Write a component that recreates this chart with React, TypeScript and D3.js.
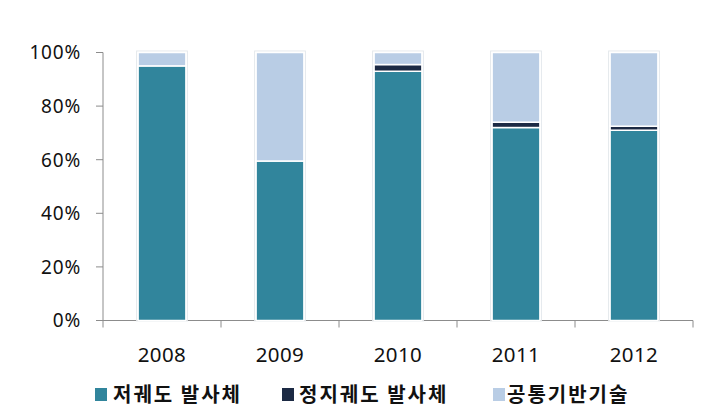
import React from "react";
import * as d3 from "d3";

const years = ["2008", "2009", "2010", "2011", "2012"];
const lowOrbit = [95, 59.5, 93, 72, 71];
const geoOrbit = [0, 0, 2.5, 2, 1.5];
const common = [5, 40.5, 4.5, 26, 27.5];
const seriesNames = ["저궤도 발사체", "정지궤도 발사체", "공통기반기술"];
const colors = ["#31859C", "#1C2A44", "#B9CDE5"];
const yTicks = [0, 20, 40, 60, 80, 100];

export default function App() {
  const W = 711, H = 415;
  const left = 103, right = 693, top = 52.5, bottom = 320.5;
  const x = d3.scaleBand().domain(years).range([left, right]).paddingInner(0.595).paddingOuter(0.2975);
  const y = d3.scaleLinear().domain([0, 100]).range([bottom, top]);
  const data = years.map((yr, i) => ({ year: yr, s0: lowOrbit[i], s1: geoOrbit[i], s2: common[i] }));
  const stack = d3.stack<any>().keys(["s0", "s1", "s2"])(data);
  const band = (right - left) / years.length;
  const font = "'Noto Sans CJK KR', 'Noto Sans', sans-serif";
  const numFont = "'Noto Sans', sans-serif";
  const legendX = [95, 282, 493];
  const textOff = [18, 17, 14];

  return (
    <svg width={W} height={H} style={{ position: "absolute", left: 0, top: 0, background: "#fff" }} fontFamily={font}>
      <line x1={left} x2={left} y1={top} y2={bottom + 7} stroke="#8c8c8c" strokeWidth={1} />
      {yTicks.map((t) => (
        <g key={t}>
          <line x1={left - 7} x2={left} y1={y(t)} y2={y(t)} stroke="#8c8c8c" />
          <text x={81} y={y(t)} dy="0.36em" textAnchor="end" fontSize={19} letterSpacing={0.8} fontFamily={numFont} fill="#111">{t}%</text>
        </g>
      ))}
      <line x1={left} x2={right} y1={bottom} y2={bottom} stroke="#8c8c8c" />
      {years.map((yr, i) => (
        <line key={yr} x1={left + band * (i + 1)} x2={left + band * (i + 1)} y1={bottom} y2={bottom + 7} stroke="#8c8c8c" />
      ))}
      {years.map((yr) => (
        <text key={yr} x={(x(yr) as number) + x.bandwidth() / 2} y={355} dy="0.36em" textAnchor="middle" fontSize={20.5} letterSpacing={0.4} fontFamily={numFont} fill="#111">{yr}</text>
      ))}
      {years.map((yr) => (
        <rect key={"sh" + yr} x={(x(yr) as number) - 1.5} y={y(100) - 1.5} width={x.bandwidth() + 3} height={y(0) - y(100) + 2} fill="none" stroke="#e4e8ec" strokeWidth={1} />
      ))}
      {stack.map((s, si) => (
        <g key={si}>
          {s.map((d: any, i: number) => {
            const h = y(d[0]) - y(d[1]);
            if (h <= 0) return null;
            return (
              <rect key={i} x={x(years[i]) as number} y={y(d[1])} width={x.bandwidth()} height={h} fill={colors[si]} stroke="#fff" strokeWidth={1.5} />
            );
          })}
        </g>
      ))}
      {seriesNames.map((n, i) => (
        <g key={n}>
          <rect x={legendX[i]} y={388} width={12} height={13} fill={colors[i]} />
          <text x={legendX[i] + textOff[i]} y={395} dy="0.36em" fontSize={20} letterSpacing={2} fontWeight="bold" fill="#111">{n}</text>
        </g>
      ))}
    </svg>
  );
}
